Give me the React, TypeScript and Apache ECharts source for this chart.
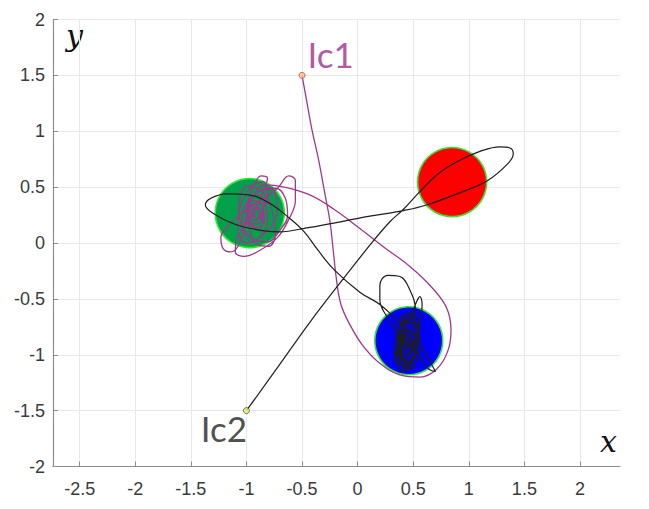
import React, { useEffect, useRef } from "react";
import * as echarts from "echarts";

// Bodies (centre x, centre y, radius, fill)
const bodyX = [0.85, -0.97, 0.46];
const bodyY = [0.545, 0.268, -0.875];
const bodyR = [0.31, 0.31, 0.305];
const bodyColor = ["#ff0000", "#00a04c", "#0000ff"];

// Initial conditions
const ic1Start: [number, number] = [-0.5, 1.5];
const ic2Start: [number, number] = [-1.0, -1.5];

// Trajectory of test particle 1 (magenta)
const traj1: [number, number][] = [
  [-0.5, 1.5], [-0.46, 1.28], [-0.41, 1.01], [-0.35, 0.74], [-0.3, 0.47], [-0.25, 0.2],
  [-0.22, -0.06], [-0.19, -0.33], [-0.15, -0.55], [-0.07, -0.73], [0.04, -0.91],
  [0.18, -1.06], [0.38, -1.18], [0.56, -1.2], [0.71, -1.13], [0.81, -0.97], [0.84, -0.78],
  [0.8, -0.58], [0.67, -0.4], [0.47, -0.21], [0.24, -0.04], [0.02, 0.13], [-0.21, 0.3],
  [-0.43, 0.43], [-0.66, 0.5], [-0.84, 0.52],
  [-0.93, 0.43], [-0.99, 0.29], [-1.02, 0.13], [-1.07, -0.02], [-1.14, -0.08], [-1.21, -0.05],
  [-1.23, 0.05], [-1.16, 0.16], [-1.02, 0.28], [-0.87, 0.38], [-0.72, 0.49], [-0.62, 0.6],
  [-0.56, 0.56], [-0.56, 0.38], [-0.62, 0.21], [-0.72, 0.05], [-0.87, -0.06], [-1.02, -0.12],
  [-1.1, -0.08], [-1.09, 0.03], [-0.99, 0.19], [-0.9, 0.34], [-0.84, 0.49], [-0.81, 0.58],
  [-0.87, 0.6], [-0.93, 0.52], [-0.98, 0.38], [-0.99, 0.22], [-0.96, 0.07], [-0.89, -0.02],
  [-0.8, -0.03], [-0.74, 0.07], [-0.76, 0.25], [-0.81, 0.4], [-0.9, 0.49], [-0.99, 0.51],
  [-1.05, 0.43], [-1.07, 0.28], [-1.03, 0.13], [-0.93, 0.03], [-0.81, 0.01], [-0.71, 0.1],
  [-0.63, 0.25], [-0.65, 0.4], [-0.74, 0.49], [-0.87, 0.47], [-0.98, 0.38], [-1.04, 0.25],
  [-1.02, 0.1], [-0.96, 0.01], [-0.87, 0.06], [-0.81, 0.19], [-0.83, 0.34], [-0.89, 0.43],
  [-0.96, 0.4], [-0.99, 0.28], [-0.96, 0.16], [-0.89, 0.12], [-0.85, 0.21], [-0.87, 0.3],
  [-0.92, 0.31], [-0.93, 0.25], [-0.9, 0.21],
  [-0.78, 0.5], [-0.72, 0.3], [-0.82, 0.1], [-1.0, 0.0], [-1.08, 0.15], [-1.0, 0.45],
  [-0.85, 0.55], [-0.8, 0.35],
  [-0.86, 0.36], [-0.95, 0.38], [-1.0, 0.3], [-0.98, 0.18], [-0.9, 0.14], [-0.84, 0.2],
  [-0.85, 0.32], [-0.93, 0.35], [-0.98, 0.27], [-0.95, 0.17], [-0.88, 0.18], [-0.86, 0.27],
  [-0.91, 0.32], [-0.96, 0.28], [-0.94, 0.2], [-0.89, 0.22], [-0.89, 0.28], [-0.93, 0.29],
  [-0.94, 0.24], [-0.91, 0.23],
];

// Trajectory of test particle 2 (black)
const traj2: [number, number][] = [
  [-1.0, -1.5], [-0.71, -1.1], [-0.43, -0.71], [-0.16, -0.36], [0.11, -0.02], [0.29, 0.19],
  [0.41, 0.3], [0.56, 0.46], [0.74, 0.63], [0.92, 0.74], [1.1, 0.82], [1.28, 0.86],
  [1.37, 0.85], [1.4, 0.8], [1.36, 0.72], [1.17, 0.56], [0.92, 0.45], [0.62, 0.34],
  [0.41, 0.29], [0.11, 0.24], [-0.1, 0.2], [-0.43, 0.14], [-0.71, 0.1], [-0.91, 0.12],
  [-1.11, 0.17], [-1.29, 0.26], [-1.37, 0.34], [-1.32, 0.4], [-1.18, 0.44], [-0.98, 0.43],
  [-0.8, 0.36], [-0.61, 0.22], [-0.48, 0.1], [-0.36, -0.06], [-0.21, -0.24], [0.02, -0.44],
  [0.2, -0.55], [0.38, -0.71],
  [0.47, -0.78], [0.56, -0.91], [0.65, -1.06], [0.7, -1.15], [0.63, -1.12], [0.52, -0.96],
  [0.38, -0.82], [0.27, -0.67], [0.2, -0.51], [0.2, -0.38], [0.27, -0.29], [0.38, -0.3],
  [0.47, -0.42], [0.52, -0.6], [0.49, -0.78], [0.42, -0.96], [0.36, -1.09], [0.4, -1.13],
  [0.47, -1.0], [0.54, -0.78], [0.58, -0.55], [0.56, -0.48], [0.52, -0.55], [0.45, -0.73],
  [0.38, -0.91], [0.33, -1.06],
  [0.42, -0.64], [0.36, -0.87], [0.47, -1.09], [0.54, -0.87], [0.49, -0.67], [0.38, -0.78],
  [0.33, -1.0], [0.42, -1.15], [0.52, -0.96], [0.56, -0.73], [0.47, -0.62], [0.4, -0.82],
  [0.36, -1.04], [0.45, -1.12], [0.52, -0.91], [0.51, -0.69], [0.42, -0.69], [0.38, -0.91],
  [0.42, -1.09], [0.49, -1.04], [0.54, -0.82], [0.45, -0.64], [0.34, -0.76], [0.38, -0.97],
  [0.47, -1.13], [0.56, -0.94], [0.52, -0.71], [0.41, -0.73], [0.36, -0.96], [0.43, -1.06],
  [0.49, -0.87], [0.45, -0.78], [0.42, -0.91],
  [0.4, -0.8], [0.46, -0.95], [0.44, -1.05], [0.39, -0.95], [0.41, -0.78], [0.47, -0.8],
  [0.5, -0.95], [0.44, -1.0], [0.4, -0.88], [0.44, -0.82], [0.48, -0.9], [0.43, -0.95],
  [0.41, -0.86], [0.45, -0.85],
];

const xMin = -2.74;
const xMax = 2.36;
const yMin = -2;
const yMax = 2;

const labelFont = "'Liberation Sans', Arial, sans-serif";

export default function App() {
  const ref = useRef<HTMLDivElement>(null);
  useEffect(() => {
    if (!ref.current) return;
    const chart = echarts.init(ref.current, null, { renderer: "svg" });
    const bodies = bodyX.map((x, i) => [x, bodyY[i], bodyR[i], i]);
    chart.setOption({
      animation: false,
      backgroundColor: "#ffffff",
      grid: { left: 53, right: 29, top: 19.5, bottom: 42.5, containLabel: false },
      xAxis: {
        type: "value",
        min: xMin,
        max: xMax,
        splitNumber: 10,
        axisLine: { show: true, onZero: false, lineStyle: { color: "#8c8c8c", width: 1.2 } },
        axisTick: { show: true, inside: true, length: 5, lineStyle: { color: "#8c8c8c" } },
        axisLabel: {
          showMinLabel: false,
          showMaxLabel: false,
          color: "#3a3a3a",
          fontSize: 18,
          fontFamily: labelFont,
          margin: 13,
        },
        splitLine: { show: true, showMaxLine: false, lineStyle: { color: "#e8e8e8", width: 1 } },
      },
      yAxis: {
        type: "value",
        min: yMin,
        max: yMax,
        interval: 0.5,
        axisLine: { show: true, onZero: false, lineStyle: { color: "#8c8c8c", width: 1.2 } },
        axisTick: { show: true, inside: true, length: 5, lineStyle: { color: "#8c8c8c" } },
        axisLabel: { color: "#3a3a3a", fontSize: 18, fontFamily: labelFont, margin: 8 },
        splitLine: { show: true, lineStyle: { color: "#e8e8e8", width: 1 } },
      },
      series: [
        {
          type: "custom",
          coordinateSystem: "cartesian2d",
          data: bodies,
          z: 1,
          renderItem: (params: any, api: any) => {
            const c = api.coord([api.value(0), api.value(1)]);
            const s = api.size([api.value(2), api.value(2)]);
            const r = (s[0] + s[1]) / 2;
            return {
              type: "circle",
              shape: { cx: c[0], cy: c[1], r },
              style: { fill: bodyColor[api.value(3)], stroke: "#33e633", lineWidth: 1.6 },
            };
          },
        },
        {
          type: "line",
          data: traj1,
          smooth: 0.4,
          showSymbol: false,
          symbol: "none",
          z: 3,
          lineStyle: { color: "#a3358f", width: 1.3 },
        },
        {
          type: "line",
          data: traj2,
          smooth: 0.4,
          showSymbol: false,
          symbol: "none",
          z: 4,
          lineStyle: { color: "#1e1e1e", width: 1.2 },
        },
        {
          type: "scatter",
          data: [ic1Start],
          symbolSize: 6,
          z: 6,
          itemStyle: { color: "#f7c08f", borderColor: "#b4503c", borderWidth: 1 },
          label: {
            show: true,
            formatter: "Ic1",
            position: "right",
            distance: 2,
            offset: [0, -21],
            color: "#9c2b8b",
            fontSize: 35,
            fontFamily: "Lato, 'Open Sans', sans-serif",
          },
        },
        {
          type: "scatter",
          data: [ic2Start],
          symbolSize: 6,
          z: 6,
          itemStyle: { color: "#eeee88", borderColor: "#55552a", borderWidth: 1 },
          label: {
            show: true,
            formatter: "Ic2",
            position: "left",
            distance: 0,
            offset: [4, 17],
            color: "#222222",
            fontSize: 35,
            fontFamily: "Lato, 'Open Sans', sans-serif",
          },
        },
      ],
      graphic: [
        {
          type: "text",
          left: 66,
          top: 20,
          style: {
            text: "y",
            fontSize: 30,
            fontStyle: "italic",
            fontFamily: "'DejaVu Serif', serif",
            fill: "#111111",
          },
        },
        {
          type: "text",
          left: 600,
          top: 426,
          style: {
            text: "x",
            fontSize: 30,
            fontStyle: "italic",
            fontFamily: "'DejaVu Serif', serif",
            fill: "#111111",
          },
        },
      ],
    });
    return () => chart.dispose();
  }, []);
  return (
    <div
      ref={ref}
      style={{ position: "fixed", left: 0, top: 0, width: 649, height: 509 }}
    />
  );
}
